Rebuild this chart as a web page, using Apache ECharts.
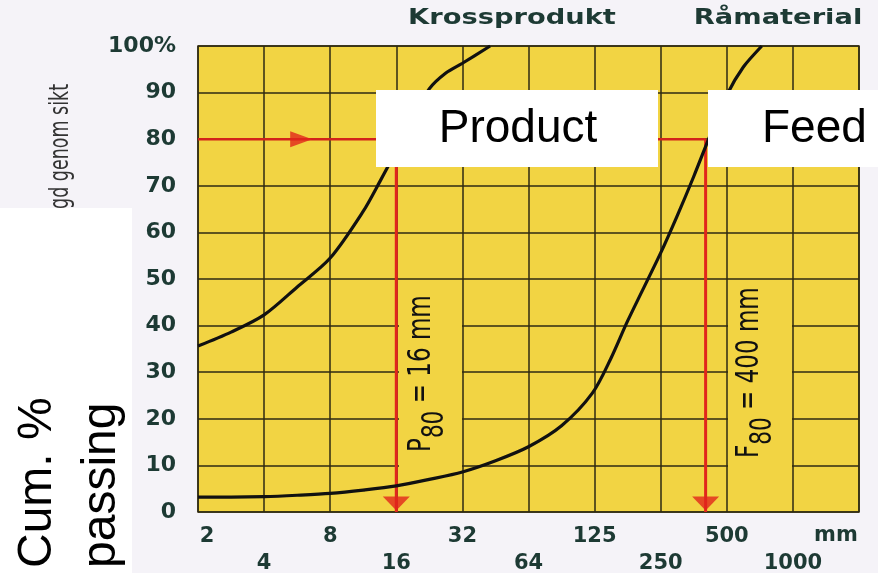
<!DOCTYPE html>
<html>
<head>
<meta charset="utf-8">
<title>P80 / F80</title>
<script src="https://cdn.jsdelivr.net/npm/echarts@6.0.0/dist/echarts.min.js"></script>
<style>
  html, body { margin: 0; padding: 0; background: #f5f3f8; }
  #chart { width: 878px; height: 573px; }
</style>
</head>
<body>
<div id="chart"></div>
<script>
// siktkurvor (mm, % genom sikt)
var xTicks = [2, 4, 8, 16, 32, 64, 128, 256, 512, 1024, 2048];
var xTickLabels = ['2', '4', '8', '16', '32', '64', '125', '250', '500', '1000', ''];
var xUnit = 'mm';
var yTicks = [0, 10, 20, 30, 40, 50, 60, 70, 80, 90, 100];
var yTickLabels = ['0', '10', '20', '30', '40', '50', '60', '70', '80', '90', '100%'];

var productSize = [2, 2.83, 4, 5.66, 8, 11.3, 13.5, 16, 19, 22.6, 26.9, 32, 42.8];
var productPassing = [35.6, 38.6, 42.3, 48.3, 54.5, 64.5, 71, 77.5, 84.5, 90.8, 94.2, 96.3, 100];

var feedSize = [2, 2.83, 4, 5.66, 8, 11.3, 16, 22.6, 32, 45.3, 64, 90.5, 125, 152, 181, 256, 304, 362, 431, 512, 609, 739];
var feedPassing = [3.2, 3.2, 3.3, 3.6, 4.0, 4.7, 5.6, 7.0, 8.6, 11.0, 14.0, 18.5, 25.5, 33, 41, 55.6, 63.5, 72, 81, 89.5, 95.5, 100];

var level80 = 80;
var p80 = 16;
var f80 = 410;
var arrowRightAt = 5.9;   // pilen på 80%-linjen
var arrowDownAt = 1.8;    // pilarna nere vid 0

var zip = function (xs, ys) {
    return xs.map(function (x, i) { return [x, ys[i]]; });
};

var darkText = '#1d3a34';
var red = '#e1261c';
var yellow = '#f2d443';
var narrow = "'Liberation Sans Narrow', 'DejaVu Sans Condensed', 'Liberation Sans', sans-serif";

var chart = echarts.init(document.getElementById('chart'));

var option = {
    backgroundColor: '#f5f3f8',
    animation: false,
    grid: {
        left: 198,
        right: 19,
        top: 46,
        bottom: 61,
        containLabel: false,
        outerBoundsMode: 'none',
        show: true,
        backgroundColor: yellow,
        borderColor: '#3b3312',
        borderWidth: 1.5
    },
    xAxis: {
        type: 'log',
        logBase: 2,
        min: 2,
        max: 2048,
        interval: 1,
        name: xUnit,
        nameLocation: 'end',
        nameGap: -45,
        nameMoveOverlap: false,
        nameTextStyle: {
            align: 'left',
            verticalAlign: 'top',
            padding: [13, 0, 0, 0],
            color: darkText,
            fontFamily: 'DejaVu Sans',
            fontWeight: 'bold',
            fontSize: 21
        },
        axisLine: { show: false },
        axisTick: { show: false },
        splitLine: { show: true, lineStyle: { color: '#2e2a12', width: 1.5 } },
        axisLabel: {
            margin: 11,
            showMinLabel: true,
            showMaxLabel: false,
            hideOverlap: false,
            color: darkText,
            fontFamily: 'DejaVu Sans',
            fontWeight: 'bold',
            fontSize: 21,
            lineHeight: 27,
            formatter: function (val) {
                var i = xTicks.indexOf(Math.round(val));
                if (i < 0) return '';
                var txt = xTickLabels[i];
                if (i === 0) return '{first|' + txt + '}';
                return i % 2 === 0 ? txt : '\n' + txt;
            },
            rich: {
                first: { padding: [0, 0, 0, 18], fontFamily: 'DejaVu Sans', fontWeight: 'bold', fontSize: 21, color: darkText, lineHeight: 27 }
            }
        }
    },
    yAxis: {
        type: 'value',
        min: 0,
        max: 100,
        interval: 10,
        axisLine: { show: false },
        axisTick: { show: false },
        splitLine: { show: true, lineStyle: { color: '#2e2a12', width: 1.5 } },
        axisLabel: {
            margin: 22,
            color: darkText,
            fontFamily: 'DejaVu Sans',
            fontWeight: 'bold',
            fontSize: 22,
            formatter: function (val) {
                var i = yTicks.indexOf(val);
                return i < 0 ? '' : yTickLabels[i];
            }
        }
    },
    series: [{
        name: 'Krossprodukt',
        type: 'line',
        data: zip(productSize, productPassing),
        smooth: 0.3,
        symbol: 'none',
        lineStyle: { color: '#111', width: 3.2 },
        z: 4
    }, {
        name: 'Råmaterial',
        type: 'line',
        data: zip(feedSize, feedPassing),
        smooth: 0.3,
        symbol: 'none',
        lineStyle: { color: '#111', width: 3.2 },
        z: 4
    }, {
        name: '80%',
        type: 'line',
        data: [[xTicks[0], level80], [f80, level80]],
        symbol: 'none',
        lineStyle: { color: '#d2231b', width: 2.5 },
        z: 3
    }, {
        name: 'P80',
        type: 'line',
        data: [[p80, level80], [p80, 0]],
        symbol: 'none',
        lineStyle: { color: red, width: 3 },
        z: 3
    }, {
        name: 'F80',
        type: 'line',
        data: [[f80, level80], [f80, 0]],
        symbol: 'none',
        lineStyle: { color: red, width: 3 },
        z: 3
    }, {
        name: 'pil höger',
        type: 'scatter',
        data: [[arrowRightAt, level80]],
        symbol: 'triangle',
        symbolSize: [16, 22],
        symbolRotate: -90,
        itemStyle: { color: red },
        z: 5
    }, {
        name: 'pil ned',
        type: 'scatter',
        data: [[p80, arrowDownAt], [f80, arrowDownAt]],
        symbol: 'triangle',
        symbolSize: [27, 14],
        symbolRotate: 180,
        itemStyle: { color: red },
        z: 5
    }],
    graphic: [
        // gula fält bakom P80/F80-texterna
        { type: 'rect', z: 1, shape: { x: 399, y: 290, width: 63, height: 180 }, style: { fill: yellow } },
        { type: 'rect', z: 1, shape: { x: 728, y: 290, width: 64, height: 180 }, style: { fill: yellow } },
        {
            type: 'text', z: 6, x: 406, y: 452, rotation: Math.PI / 2, scaleX: 0.8,
            style: {
                text: '{m|P}{s|80}{m| = 16 mm}',
                align: 'left', verticalAlign: 'top',
                rich: {
                    m: { fontFamily: narrow, fontSize: 32, fill: '#111', verticalAlign: 'top' },
                    s: { fontFamily: narrow, fontSize: 30, fill: '#111', verticalAlign: 'top', padding: [14, 0, 0, 0] }
                }
            }
        },
        {
            type: 'text', z: 6, x: 734, y: 458, rotation: Math.PI / 2, scaleX: 0.8,
            style: {
                text: '{m|F}{s|80}{m| = 400 mm}',
                align: 'left', verticalAlign: 'top',
                rich: {
                    m: { fontFamily: narrow, fontSize: 32, fill: '#111', verticalAlign: 'top' },
                    s: { fontFamily: narrow, fontSize: 30, fill: '#111', verticalAlign: 'top', padding: [14, 0, 0, 0] }
                }
            }
        },
        // rubriker ovanför diagrammet
        {
            type: 'text', z: 6, x: 512, y: 19, scaleX: 1.3,
            style: { text: 'Krossprodukt', align: 'center', verticalAlign: 'middle', font: 'bold 21px "DejaVu Sans"', fill: darkText }
        },
        {
            type: 'text', z: 6, x: 778, y: 19, scaleX: 1.3,
            style: { text: 'Råmaterial', align: 'center', verticalAlign: 'middle', font: 'bold 21px "DejaVu Sans"', fill: darkText }
        },
        // ursprunglig axeltitel, delvis dold
        {
            type: 'text', z: 6, x: 61, y: 84, rotation: Math.PI / 2, scaleX: 0.72,
            style: { text: 'Mängd genom sikt', align: 'right', verticalAlign: 'middle', font: "27px " + narrow, fill: '#333' }
        },
        // vita etiketter
        { type: 'rect', z: 10, shape: { x: 0, y: 208, width: 132, height: 365 }, style: { fill: '#ffffff' } },
        { type: 'rect', z: 10, shape: { x: 376, y: 90, width: 282, height: 77 }, style: { fill: '#ffffff' } },
        { type: 'rect', z: 10, shape: { x: 708, y: 90, width: 170, height: 77 }, style: { fill: '#ffffff' } },
        {
            type: 'text', z: 11, x: 518, y: 129,
            style: { text: 'Product', align: 'center', verticalAlign: 'middle', font: "46px 'Liberation Sans', Arial, sans-serif", fill: '#000' }
        },
        {
            type: 'text', z: 11, x: 762, y: 129,
            style: { text: 'Feed', align: 'left', verticalAlign: 'middle', font: "46px 'Liberation Sans', Arial, sans-serif", fill: '#000' }
        },
        {
            type: 'text', z: 11, x: 70, y: 568, rotation: Math.PI / 2,
            style: { text: 'Cum. %\npassing', align: 'left', verticalAlign: 'middle', lineHeight: 64, font: "48px 'Liberation Sans', Arial, sans-serif", fill: '#000' }
        }
    ]
};

option && chart.setOption(option);
window.addEventListener('resize', chart.resize);
</script>
</body>
</html>
